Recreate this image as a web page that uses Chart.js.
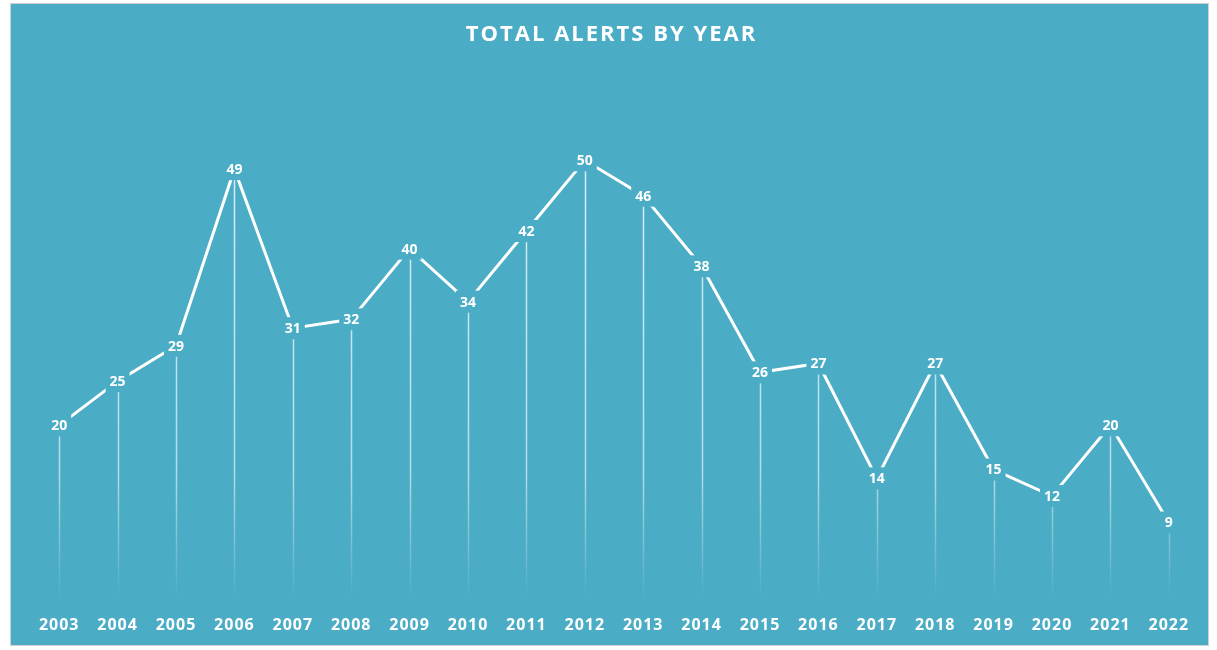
<!DOCTYPE html>
<html>
<head>
<meta charset="utf-8">
<script src="https://cdn.jsdelivr.net/npm/chart.js@4.4.0/dist/chart.umd.min.js"></script>
<style>
    body{ margin:0; background:#fff; }
    #box{
        position:absolute; left:10px; top:3px;
        width:1197px; height:641px;
        border:1px solid #d0d0d0;
        background:#4BACC6;
    }
</style>
</head>
<body>
<div id="box"><canvas id="alertChart"></canvas></div>
<script>
const years = ['2003','2004','2005','2006','2007','2008','2009','2010','2011','2012',
               '2013','2014','2015','2016','2017','2018','2019','2020','2021','2022'];
const alerts = [20,25,29,49,31,32,40,34,42,50,46,38,26,27,14,27,15,12,20,9];
const chartTitle = 'TOTAL ALERTS BY YEAR';

const bg = '#4BACC6';
const font = '"Open Sans", "DejaVu Sans", sans-serif';

// slightly wider tick text, like the original
const tickSpacing = {
    id: 'tickSpacing',
    beforeDraw(chart){ chart.ctx.letterSpacing = '1px'; },
    beforeDatasetsDraw(chart){ chart.ctx.letterSpacing = '0px'; }
};

// vertical drop lines fading toward the axis
const dropLines = {
    id: 'dropLines',
    beforeDatasetsDraw(chart){
        const {ctx, chartArea} = chart;
        const meta = chart.getDatasetMeta(0);
        const grad = ctx.createLinearGradient(0, chartArea.top, 0, chartArea.bottom);
        grad.addColorStop(0, 'rgba(255,255,255,0.85)');
        grad.addColorStop(0.75, 'rgba(255,255,255,0.6)');
        grad.addColorStop(1, 'rgba(255,255,255,0)');
        ctx.save();
        ctx.strokeStyle = grad;
        ctx.lineWidth = 1.5;
        meta.data.forEach(pt => {
            ctx.beginPath();
            ctx.moveTo(Math.round(pt.x) + 0.5, pt.y);
            ctx.lineTo(Math.round(pt.x) + 0.5, chartArea.bottom - 4);
            ctx.stroke();
        });
        ctx.restore();
    }
};

// value labels with a filled box that hides the line underneath
const valueLabels = {
    id: 'valueLabels',
    afterDatasetsDraw(chart){
        const {ctx} = chart;
        const meta = chart.getDatasetMeta(0);
        ctx.save();
        ctx.font = 'bold 14px ' + font;
        ctx.textAlign = 'center';
        ctx.textBaseline = 'middle';
        meta.data.forEach((pt, i) => {
            const txt = String(alerts[i]);
            const w = ctx.measureText(txt).width + 8;
            ctx.fillStyle = bg;
            ctx.fillRect(pt.x - w/2, pt.y - 11, w, 22);
            ctx.fillStyle = '#fff';
            ctx.fillText(txt, pt.x, pt.y + 1);
        });
        ctx.restore();
    }
};

const titlePlugin = {
    id: 'spacedTitle',
    afterDraw(chart){
        const {ctx, width} = chart;
        ctx.save();
        ctx.font = 'bold 22px ' + font;
        ctx.letterSpacing = '2px';
        ctx.fillStyle = '#fff';
        ctx.textAlign = 'center';
        ctx.textBaseline = 'middle';
        ctx.fillText(chartTitle, width/2 + 2, 31);
        ctx.restore();
    }
};

new Chart(document.getElementById('alertChart').getContext('2d'), {
    type: 'line',
    data: {
        labels: years,
        datasets: [{
            data: alerts,
            borderColor: '#fff',
            borderWidth: 3,
            pointRadius: 0,
            tension: 0,
            fill: false
        }]
    },
    options: {
        responsive: true,
        maintainAspectRatio: false,
        animation: false,
        layout: { padding: { top: 68, left: 19, right: 10, bottom: 0 } },
        plugins: {
            legend: { display: false },
            tooltip: { enabled: false },
            title: { display: false }
        },
        scales: {
            x: {
                offset: true,
                grid: { display: false, drawTicks: false },
                border: { display: false },
                afterFit(scale){ scale.height = 43; },
                ticks: {
                    color: '#fff',
                    padding: 14,
                    maxRotation: 0,
                    autoSkip: false,
                    font: { family: font, size: 16, weight: 'bold' }
                }
            },
            y: {
                display: false,
                min: 0,
                max: 60
            }
        }
    },
    plugins: [tickSpacing, dropLines, valueLabels, titlePlugin]
});
</script>
</body>
</html>
